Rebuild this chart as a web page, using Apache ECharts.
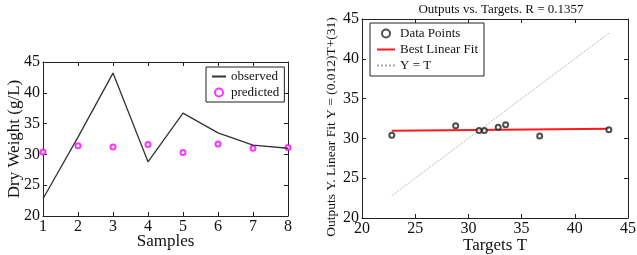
<!DOCTYPE html>
<html>
<head>
<meta charset="utf-8">
<script src="https://cdn.jsdelivr.net/npm/echarts@6/dist/echarts.min.js"></script>
<style>
html, body { margin: 0; padding: 0; background: #fff; }
#chart { width: 637px; height: 255px; }
</style>
</head>
<body>
<div id="chart"></div>
<script>
// left plot: observed vs predicted per sample
const samples = [1, 2, 3, 4, 5, 6, 7, 8];
const observed = [22.8, 32.8, 43.2, 28.8, 36.7, 33.5, 31.5, 31.0];
const predicted = [30.4, 31.4, 31.2, 31.6, 30.3, 31.7, 31.0, 31.1];
// right plot: regression of outputs on targets
const targets = [22.8, 28.8, 31.0, 31.5, 32.8, 33.5, 36.7, 43.2];
const outputs = [30.4, 31.6, 31.0, 31.0, 31.4, 31.7, 30.3, 31.1];
const fitT = [22.8, 43.2];
const fitY = [30.95, 31.2];
const identT = [22.8, 43.2];

const font = 'Liberation Serif';
const ink = '#222';

function pairs(xs, ys) {
  return xs.map((x, i) => [x, ys[i]]);
}

// main axis + mirrored axis (box with inward ticks)
function axisPair(dim, grid, min, max, interval, name, nameGap, nameSize, labelSize) {
  const base = {
    type: 'value', gridIndex: grid, min: min, max: max, interval: interval,
    splitLine: { show: false },
    axisLine: { lineStyle: { color: ink, width: 1 } },
    axisTick: { inside: true, length: 4, lineStyle: { color: ink } }
  };
  const main = Object.assign({}, base, {
    position: dim === 'x' ? 'bottom' : 'left',
    name: name, nameLocation: 'middle', nameGap: nameGap, nameMoveOverlap: false,
    nameTextStyle: { fontFamily: font, fontSize: nameSize, color: '#111' },
    axisLabel: { fontFamily: font, fontSize: labelSize, color: '#111', margin: 3 }
  });
  const mirror = Object.assign({}, base, {
    position: dim === 'x' ? 'top' : 'right',
    axisLabel: { show: false }
  });
  return [main, mirror];
}

// line-only legend entry (hide the symbol echarts puts on line icons)
function lineItem(name) {
  return { name: name, itemStyle: { opacity: 0 } };
}

const chart = echarts.init(document.getElementById('chart'));
chart.setOption({
  animation: false,
  backgroundColor: '#fff',
  title: {
    text: 'Outputs vs. Targets. R = 0.1357',
    left: 501, top: 3, padding: 0, textAlign: 'center',
    textStyle: { fontFamily: font, fontSize: 13, fontWeight: 'normal', color: '#111' }
  },
  // right y label is long and sits lower than the plot centre, so placed by hand
  graphic: [{
    type: 'text', x: 331, y: 127, rotation: Math.PI / 2,
    style: {
      text: 'Outputs Y. Linear Fit Y = (0.012)T+(31)',
      fontFamily: font, fontSize: 13.5, fill: '#111',
      align: 'center', verticalAlign: 'middle'
    }
  }],
  grid: [
    { left: 43, right: 349, top: 62, bottom: 39, outerBoundsMode: 'none', containLabel: false },
    { left: 362, right: 9, top: 19, bottom: 37, outerBoundsMode: 'none', containLabel: false }
  ],
  xAxis: [].concat(
    axisPair('x', 0, 1, 8, 1, 'Samples', 17, 17, 16),
    axisPair('x', 1, 20, 45, 5, 'Targets T', 19, 17, 16)
  ),
  yAxis: [].concat(
    axisPair('y', 0, 20, 45, 5, 'Dry Weight (g/L)', 20, 17, 16),
    axisPair('y', 1, 20, 45, 5, '', 25, 13, 16)
  ),
  legend: [
    {
      left: 206, top: 67, orient: 'vertical',
      itemWidth: 14, itemHeight: 8, itemGap: 3, padding: [3, 5, 3, 5],
      borderColor: ink, borderWidth: 1, backgroundColor: '#fff',
      textStyle: { fontFamily: font, fontSize: 13, color: '#111' },
      data: [lineItem('observed'), 'predicted']
    },
    {
      left: 370, top: 23, orient: 'vertical',
      itemWidth: 18, itemHeight: 8, itemGap: 3, padding: [4, 6, 4, 6],
      borderColor: ink, borderWidth: 1, backgroundColor: '#fff',
      textStyle: { fontFamily: font, fontSize: 13, color: '#111' },
      data: ['Data Points', lineItem('Best Linear Fit'), lineItem('Y = T')]
    }
  ],
  series: [
    {
      name: 'observed', type: 'line', xAxisIndex: 0, yAxisIndex: 0,
      symbol: 'none', data: pairs(samples, observed),
      lineStyle: { color: '#333', width: 1.3 }, itemStyle: { color: '#333' }
    },
    {
      name: 'predicted', type: 'scatter', xAxisIndex: 0, yAxisIndex: 0,
      symbol: 'emptyCircle', symbolSize: 5, data: pairs(samples, predicted),
      itemStyle: { color: '#ff00ff', borderColor: '#ff00ff', borderWidth: 1 }
    },
    {
      name: 'Data Points', type: 'scatter', xAxisIndex: 2, yAxisIndex: 2,
      symbol: 'emptyCircle', symbolSize: 5, data: pairs(targets, outputs),
      itemStyle: { color: '#222', borderColor: '#222', borderWidth: 1 }
    },
    {
      name: 'Best Linear Fit', type: 'line', xAxisIndex: 2, yAxisIndex: 2,
      symbol: 'none', data: pairs(fitT, fitY), z: 1,
      lineStyle: { color: '#ff1a1a', width: 2 }, itemStyle: { color: '#ff1a1a' }
    },
    {
      name: 'Y = T', type: 'line', xAxisIndex: 2, yAxisIndex: 2,
      symbol: 'none', data: pairs(identT, identT), z: 0,
      lineStyle: { color: '#aaa', width: 1, type: 'dotted' }, itemStyle: { color: '#aaa' }
    }
  ]
});
</script>
</body>
</html>
